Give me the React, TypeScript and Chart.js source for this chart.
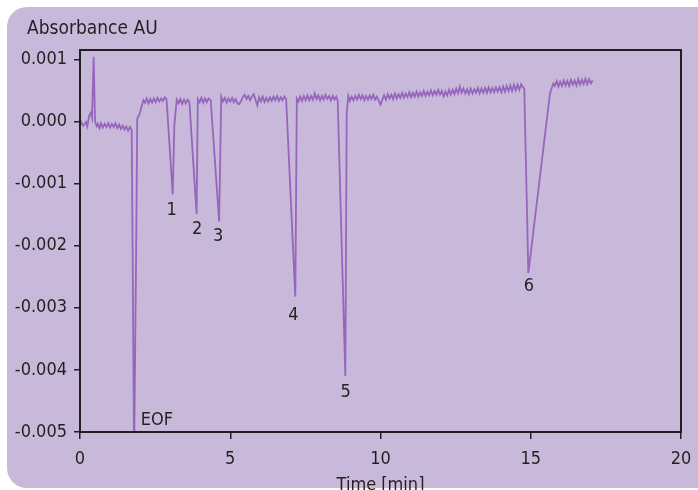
import { useEffect, useRef } from "react";
import { Chart, registerables } from "chart.js";

Chart.register(...registerables);

const FONT = "'Liberation Sans Narrow', 'Arial Narrow', 'DejaVu Sans Condensed', Roboto, sans-serif";
const BG = "#c8b9db";
const LINE = "#9566bb";
const DARK = "#231f20";

const timeMin = [
  0.0, 0.03, 0.11, 0.2, 0.24, 0.31, 0.36, 0.4, 0.455, 0.5, 0.56,
  0.6, 0.65, 0.7, 0.76, 0.82, 0.88, 0.94, 1.0, 1.06, 1.12, 1.18, 1.24, 1.3, 1.36, 1.42, 1.48, 1.54, 1.6, 1.66, 1.72,
  1.75, 1.8, 1.87, 1.905, 1.97, 2.05, 2.11,
  2.16, 2.22, 2.28, 2.34, 2.4, 2.46, 2.52, 2.58, 2.64, 2.7, 2.76, 2.82, 2.88,
  3.085, 3.14, 3.22,
  3.28, 3.34, 3.4, 3.46, 3.52, 3.58, 3.64,
  3.88, 3.92,
  3.98, 4.04, 4.1, 4.16, 4.22, 4.28, 4.35,
  4.63, 4.7,
  4.76, 4.82, 4.88, 4.94, 5.0, 5.06, 5.12, 5.18, 5.24, 5.3, 5.36, 5.42, 5.48, 5.54, 5.6, 5.66, 5.72, 5.78, 5.84, 5.9,
  5.96, 6.02, 6.08, 6.14, 6.2, 6.26, 6.32, 6.38, 6.44, 6.5, 6.56, 6.62, 6.68, 6.74, 6.8, 6.86,
  7.165, 7.215,
  7.27, 7.33, 7.39, 7.45, 7.51, 7.57, 7.63, 7.69, 7.75, 7.81, 7.87, 7.93, 7.99, 8.05, 8.11, 8.17, 8.23, 8.29, 8.35, 8.41, 8.47, 8.53, 8.575,
  8.83, 8.875, 8.93,
  8.98, 9.04, 9.1, 9.16, 9.22, 9.28, 9.34, 9.4, 9.46, 9.52, 9.58, 9.64, 9.7, 9.76, 9.82, 9.88, 9.94, 10.0,
  10.06, 10.12, 10.18, 10.24, 10.3, 10.36, 10.42, 10.48, 10.54, 10.6, 10.66, 10.72, 10.78, 10.84, 10.9, 10.96,
  11.02, 11.08, 11.14, 11.2, 11.26, 11.32, 11.38, 11.44, 11.5, 11.56, 11.62, 11.68, 11.74, 11.8, 11.86, 11.92, 11.98,
  12.04, 12.1, 12.16, 12.22, 12.28, 12.34, 12.4, 12.46, 12.52, 12.58, 12.64, 12.7, 12.76, 12.82, 12.88, 12.94,
  13.0, 13.06, 13.12, 13.18, 13.24, 13.3, 13.36, 13.42, 13.48, 13.54, 13.6, 13.66, 13.72, 13.78, 13.84, 13.9, 13.96,
  14.02, 14.08, 14.14, 14.2, 14.26, 14.32, 14.38, 14.44, 14.5, 14.56, 14.62, 14.68, 14.74,
  14.785, 14.92, 15.64, 15.75,
  15.8, 15.86, 15.92, 15.98, 16.04, 16.1, 16.16, 16.22, 16.28, 16.34, 16.4, 16.46, 16.52, 16.58, 16.64, 16.7,
  16.76, 16.82, 16.88, 16.94, 17.0, 17.06,
];

const absorbanceAU = [
  0.00002, -0.00001, -0.00007, -0.00001, -0.00008, 0.0001, 0.00014, 0.00006, 0.00104, 0.0, -0.00008,
  -0.00004, -0.00011, -0.00003, -0.0001, -0.00004, -0.00009, -0.00003, -0.0001, -0.00004, -0.00009, -0.00003, -0.00011, -0.00005, -0.00012, -0.00007, -0.00013, -0.00008, -0.00015, -0.00009, -0.00014,
  -0.002, -0.0054, -0.002, 0.00005, 0.0001, 0.00024, 0.00034,
  0.0003, 0.00037, 0.00029, 0.00036, 0.0003, 0.00037, 0.00031, 0.00038, 0.00032, 0.00037, 0.00033, 0.00039, 0.00036,
  -0.00117, -0.00006, 0.00035,
  0.00029, 0.00036, 0.00028, 0.00035, 0.00029, 0.00035, 0.00031,
  -0.00149, 0.00036,
  0.00031, 0.00038, 0.0003, 0.00037, 0.00031, 0.00037, 0.00034,
  -0.00161, 0.0004,
  0.00032, 0.00038, 0.0003, 0.00037, 0.00032, 0.00038, 0.00031, 0.00036, 0.00029, 0.00028, 0.00033, 0.00039, 0.00043, 0.00036, 0.00041, 0.00034, 0.0004, 0.00044, 0.00035, 0.00026,
  0.00039, 0.00032, 0.0004, 0.00031, 0.00038, 0.00032, 0.00039, 0.00033, 0.0004, 0.00034, 0.00041, 0.00033, 0.00039, 0.00034, 0.0004, 0.00036,
  -0.00282, 0.00037,
  0.00032, 0.0004, 0.00033, 0.00041, 0.00034, 0.00042, 0.00034, 0.00041, 0.00035, 0.00045, 0.00036, 0.00042, 0.00034, 0.00041, 0.00035, 0.00043, 0.00036, 0.00041, 0.00034, 0.00041, 0.00035, 0.0004, 0.00034,
  -0.0041, 0.00013, 0.00041,
  0.00033, 0.0004, 0.00034, 0.00041, 0.00035, 0.00043, 0.00036, 0.00042, 0.00034, 0.00041, 0.00035, 0.00042, 0.00036, 0.00043, 0.00035, 0.0004, 0.00033, 0.00027,
  0.00035, 0.00042, 0.00035, 0.00044, 0.00037, 0.00043, 0.00036, 0.00045, 0.00037, 0.00044, 0.00038, 0.00046, 0.00038, 0.00045, 0.00039, 0.00047,
  0.00039, 0.00046, 0.0004, 0.00048, 0.0004, 0.00047, 0.00041, 0.00049, 0.00041, 0.00048, 0.00042, 0.0005, 0.00042, 0.00049, 0.00043, 0.00051, 0.00043,
  0.00049, 0.0004, 0.00048, 0.00042, 0.00051, 0.00043, 0.00051, 0.00044, 0.00053, 0.00045, 0.00056, 0.00046, 0.00053, 0.00045, 0.00052, 0.00044,
  0.00053, 0.00045, 0.00052, 0.00046, 0.00054, 0.00045, 0.00053, 0.00046, 0.00054, 0.00046, 0.00055, 0.00047, 0.00054, 0.00047, 0.00055, 0.00048, 0.00055,
  0.00047, 0.00056, 0.00048, 0.00057, 0.00049, 0.00058, 0.00049, 0.00059, 0.0005, 0.00059, 0.00051, 0.0006, 0.00055,
  0.00053, -0.00244, 0.00045, 0.00061,
  0.00057, 0.00065, 0.00056, 0.00064, 0.00057, 0.00066, 0.00058, 0.00065, 0.00057, 0.00067, 0.00059, 0.00066, 0.00058, 0.00068, 0.00059, 0.00067,
  0.0006, 0.00069, 0.0006, 0.00068, 0.00061, 0.00066,
];

const xTicks = [0, 5, 10, 15, 20];
const yTicks = [-0.005, -0.004, -0.003, -0.002, -0.001, 0, 0.001];

const peakLabels = ["1", "2", "3", "4", "5", "6", "EOF"];
const peakLabelTime = [3.05, 3.9, 4.6, 7.1, 8.84, 14.94, 2.56];
const peakLabelAU = [-0.001436, -0.001731, -0.001844, -0.003116, -0.004367, -0.00266, -0.004807];

const yTitle = "Absorbance AU";
const xTitle = "Time [min]";

export default function App() {
  const ref = useRef<HTMLCanvasElement>(null);

  useEffect(() => {
    if (!ref.current) return;
    const bgPlugin = {
      id: "bgPlugin",
      beforeDraw(chart: any) {
        const ctx = chart.ctx;
        ctx.save();
        ctx.fillStyle = BG;
        ctx.beginPath();
        ctx.roundRect(7, 7, 740, 481, 20);
        ctx.fill();
        ctx.restore();
      },
    };
    const decoPlugin = {
      id: "decoPlugin",
      afterDraw(chart: any) {
        const ctx = chart.ctx;
        const a = chart.chartArea;
        const xs = chart.scales.x;
        const ys = chart.scales.y;
        ctx.save();
        ctx.strokeStyle = DARK;
        ctx.lineWidth = 2;
        ctx.strokeRect(a.left, a.top, a.right - a.left, a.bottom - a.top);
        ctx.fillStyle = DARK;
        ctx.font = `19px ${FONT}`;
        ctx.textAlign = "left";
        ctx.textBaseline = "alphabetic";
        ctx.fillText(yTitle, 27, 34);
        ctx.font = `18px ${FONT}`;
        ctx.textAlign = "center";
        ctx.fillText(xTitle, (a.left + a.right) / 2, 490);
        ctx.font = `18px ${FONT}`;
        ctx.textBaseline = "middle";
        peakLabels.forEach((lab, i) => {
          ctx.fillText(lab, xs.getPixelForValue(peakLabelTime[i]), ys.getPixelForValue(peakLabelAU[i]));
        });
        ctx.restore();
      },
    };

    const chart = new Chart(ref.current, {
      type: "line",
      data: {
        datasets: [
          {
            data: timeMin.map((t, i) => ({ x: t, y: absorbanceAU[i] })),
            borderColor: LINE,
            borderWidth: 1.8,
            pointRadius: 0,
            tension: 0,
            fill: false,
          },
        ],
      },
      options: {
        animation: false,
        responsive: false,
        events: [],
        font: { family: FONT },
        layout: { padding: { top: 50, right: 17, left: 0, bottom: 0 } },
        plugins: { legend: { display: false }, tooltip: { enabled: false }, title: { display: false } },
        scales: {
          x: {
            type: "linear",
            min: 0,
            max: 20,
            afterBuildTicks: (s: any) => {
              s.ticks = xTicks.map((v) => ({ value: v }));
            },
            afterFit: (s: any) => {
              s.height = 58;
              s.paddingLeft = 0;
              s.paddingRight = 0;
            },
            grid: { drawOnChartArea: false, tickLength: 7, color: DARK, lineWidth: 1.5 },
            border: { display: false },
            ticks: {
              padding: 10,
              color: DARK,
              font: { size: 18, family: FONT },
              maxRotation: 0,
              autoSkip: false,
              callback: (v: any) => String(v),
            },
          },
          y: {
            type: "linear",
            min: -0.005,
            max: 0.00115,
            afterBuildTicks: (s: any) => {
              s.ticks = yTicks.map((v) => ({ value: v }));
            },
            afterFit: (s: any) => {
              s.width = 80;
              s.paddingTop = 0;
              s.paddingBottom = 0;
            },
            grid: { drawOnChartArea: false, tickLength: 6, color: DARK, lineWidth: 1.5 },
            border: { display: false },
            ticks: {
              padding: 7,
              color: DARK,
              font: { size: 18, family: FONT },
              autoSkip: false,
              callback: (v: any) => Number(v).toFixed(3),
            },
          },
        },
      },
      plugins: [bgPlugin, decoPlugin],
    } as any);
    return () => chart.destroy();
  }, []);

  return (
    <div style={{ position: "absolute", left: 0, top: 0, width: 698, height: 490 }}>
      <canvas ref={ref} width={698} height={490} style={{ display: "block", width: 698, height: 490 }} />
    </div>
  );
}
